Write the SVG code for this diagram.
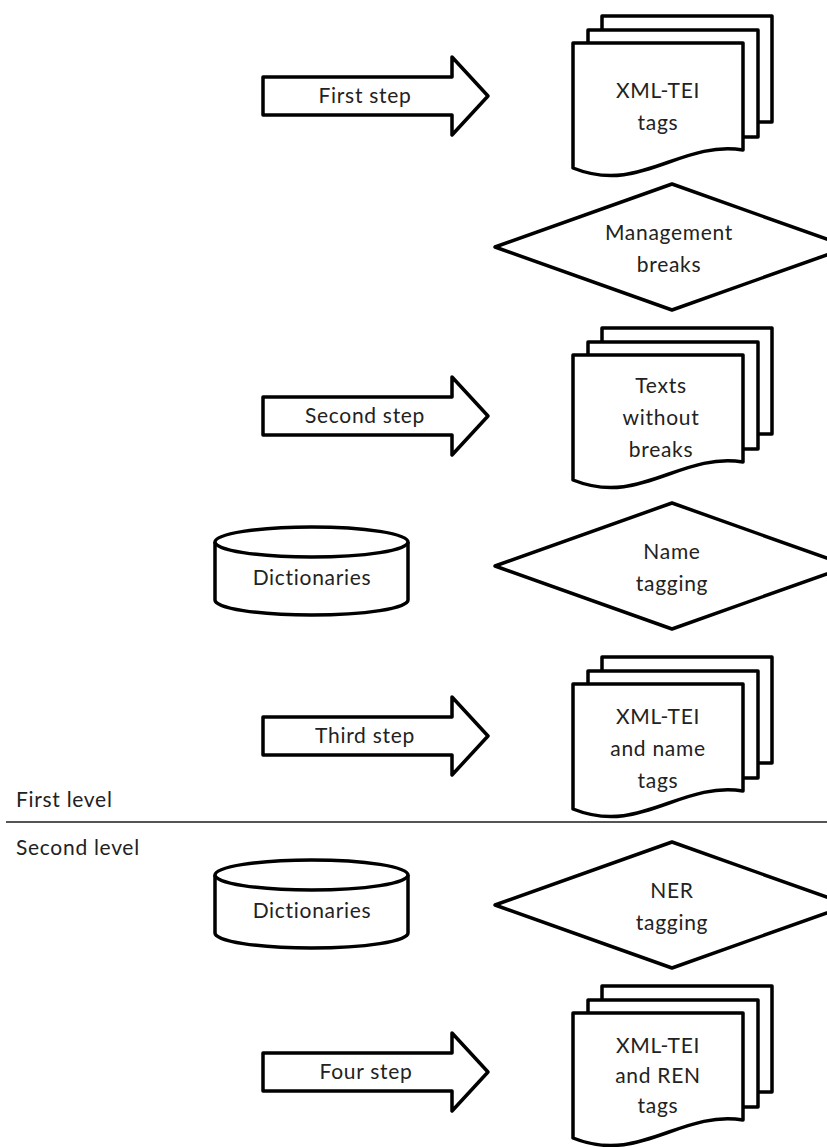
<svg xmlns="http://www.w3.org/2000/svg" width="827" height="1147" viewBox="0 0 827 1147">
<style>
.s{fill:#fff;stroke:#000;stroke-width:3.5;stroke-linejoin:round}
.t{font-family:Lato,"Liberation Sans",sans-serif;font-size:21px;letter-spacing:0.7px;fill:#222;text-anchor:middle}
.l{font-family:Lato,"Liberation Sans",sans-serif;font-size:21px;letter-spacing:0.7px;fill:#222}
</style>
<defs>
<g id="stack">
<rect class="s" x="602" y="-27" width="170" height="106"/>
<rect class="s" x="588" y="-13" width="170" height="107"/>
<path class="s" d="M573,0 H743 V107 C680,97 640,152 573,125 Z"/>
</g>
<path id="arrow" class="s" d="M263,-19 H452 V-39 L488,0 L452,39 V19 H263 Z"/>
<polygon id="diamond" class="s" points="672,-63 849,0 672,63 495,0"/>
<g id="cyl">
<path class="s" d="M215,0 V58 A96.5,15 0 0 0 408,58 V0"/>
<ellipse class="s" cx="311.5" cy="0" rx="96.5" ry="15"/>
</g>
</defs>
<g id="level-divider">
<line x1="6" y1="822" x2="827" y2="822" stroke="#555" stroke-width="2"/>
<text class="l" x="16" y="807">First level</text>
<text class="l" x="16" y="855">Second level</text>
</g>
<g id="connectors">
<g id="arrow1"><use href="#arrow" y="96"/><text class="t" x="365" y="103">First step</text></g>
<g id="arrow2"><use href="#arrow" y="416"/><text class="t" x="365" y="423">Second step</text></g>
<g id="arrow3"><use href="#arrow" y="736"/><text class="t" x="365" y="743">Third step</text></g>
<g id="arrow4"><use href="#arrow" y="1072"/><text class="t" x="366" y="1079">Four step</text></g>
</g>
<g id="doc1"><use href="#stack" y="43"/><text class="t" x="658" y="98">XML-TEI</text><text class="t" x="658" y="130">tags</text></g>
<g id="decision1"><use href="#diamond" y="247"/><text class="t" x="669" y="240">Management</text><text class="t" x="669" y="272">breaks</text></g>
<g id="doc2"><use href="#stack" y="355"/><text class="t" x="661" y="393">Texts</text><text class="t" x="661" y="425">without</text><text class="t" x="661" y="457">breaks</text></g>
<g id="dict1"><use href="#cyl" y="542"/><text class="t" x="312" y="585">Dictionaries</text></g>
<g id="decision2"><use href="#diamond" y="566"/><text class="t" x="672" y="559">Name</text><text class="t" x="672" y="591">tagging</text></g>
<g id="doc3"><use href="#stack" y="684"/><text class="t" x="658" y="724">XML-TEI</text><text class="t" x="658" y="756">and name</text><text class="t" x="658" y="788">tags</text></g>
<g id="dict2"><use href="#cyl" y="875"/><text class="t" x="312" y="918">Dictionaries</text></g>
<g id="decision3"><use href="#diamond" y="905"/><text class="t" x="672" y="898">NER</text><text class="t" x="672" y="930">tagging</text></g>
<g id="doc4"><use href="#stack" y="1013"/><text class="t" x="658" y="1053">XML-TEI</text><text class="t" x="658" y="1083">and REN</text><text class="t" x="658" y="1113">tags</text></g>
</svg>
